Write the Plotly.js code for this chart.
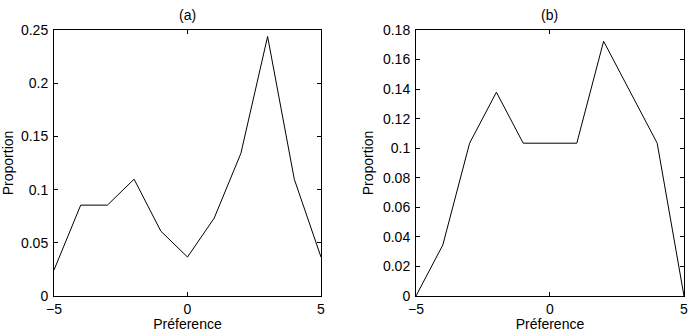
<!DOCTYPE html>
<html>
<head>
<meta charset="utf-8">
<script src="https://cdn.plot.ly/plotly-3.0.1.min.js"></script>
<style>
  body { margin: 0; background: #fff; }
  #chart { width: 690px; height: 332px; }
</style>
</head>
<body>
<div id="chart"></div>
<script>
// preference scale, shared by both panels
var pref = [-5, -4, -3, -2, -1, 0, 1, 2, 3, 4, 5];
// panel (a)
var propA = [0.0244, 0.0854, 0.0854, 0.1098, 0.061, 0.0366, 0.0732, 0.1341, 0.2439, 0.1098, 0.0366];
// panel (b)
var propB = [0, 0.0345, 0.1034, 0.1379, 0.1034, 0.1034, 0.1034, 0.1724, 0.1379, 0.1034, 0];
var panelTitles = ["(a)", "(b)"];
var xLabel = "Préference";
var yLabel = "Proportion";

var font = { family: "Liberation Sans, Arial, sans-serif", size: 14, color: "#000" };

function xAxis(domain, anchor) {
  return {
    domain: domain, anchor: anchor,
    range: [-5, 5], dtick: 5, tick0: -5,
    showgrid: false, zeroline: false,
    showline: true, linecolor: "#000", linewidth: 1,
    mirror: "ticks", ticks: "inside", ticklen: 4, tickcolor: "#000",
    ticklabelstandoff: 0,
    title: { text: xLabel, font: font, standoff: 1 },
    tickfont: font
  };
}
function yAxis(range, dtick, anchor) {
  return {
    anchor: anchor, domain: [0, 1],
    range: range, dtick: dtick, tick0: 0,
    showgrid: false, zeroline: false,
    showline: true, linecolor: "#000", linewidth: 1,
    mirror: "ticks", ticks: "inside", ticklen: 4, tickcolor: "#000",
    ticklabelstandoff: 2,
    title: { text: yLabel, font: font, standoff: 6 },
    tickfont: font
  };
}

var traces = [
  { x: pref, y: propA, xaxis: "x", yaxis: "y", mode: "lines",
    line: { color: "#000", width: 1 } },
  { x: pref, y: propB, xaxis: "x2", yaxis: "y2", mode: "lines",
    line: { color: "#000", width: 1 } }
];

var layout = {
  width: 690, height: 332,
  margin: { l: 54, r: 6, t: 30, b: 36 },
  paper_bgcolor: "#fff", plot_bgcolor: "#fff",
  font: font,
  showlegend: false,
  xaxis: xAxis([0, 0.4238], "y"),
  yaxis: yAxis([0, 0.25], 0.05, "x"),
  xaxis2: xAxis([0.5746, 1], "y2"),
  yaxis2: yAxis([0, 0.18], 0.02, "x2"),
  annotations: [
    { text: panelTitles[0], xref: "x domain", yref: "paper", x: 0.5, y: 1,
      yanchor: "bottom", yshift: 5, showarrow: false, font: font },
    { text: panelTitles[1], xref: "x2 domain", yref: "paper", x: 0.5, y: 1,
      yanchor: "bottom", yshift: 5, showarrow: false, font: font }
  ]
};

Plotly.newPlot("chart", traces, layout, { displayModeBar: false, staticPlot: true });
</script>
</body>
</html>
